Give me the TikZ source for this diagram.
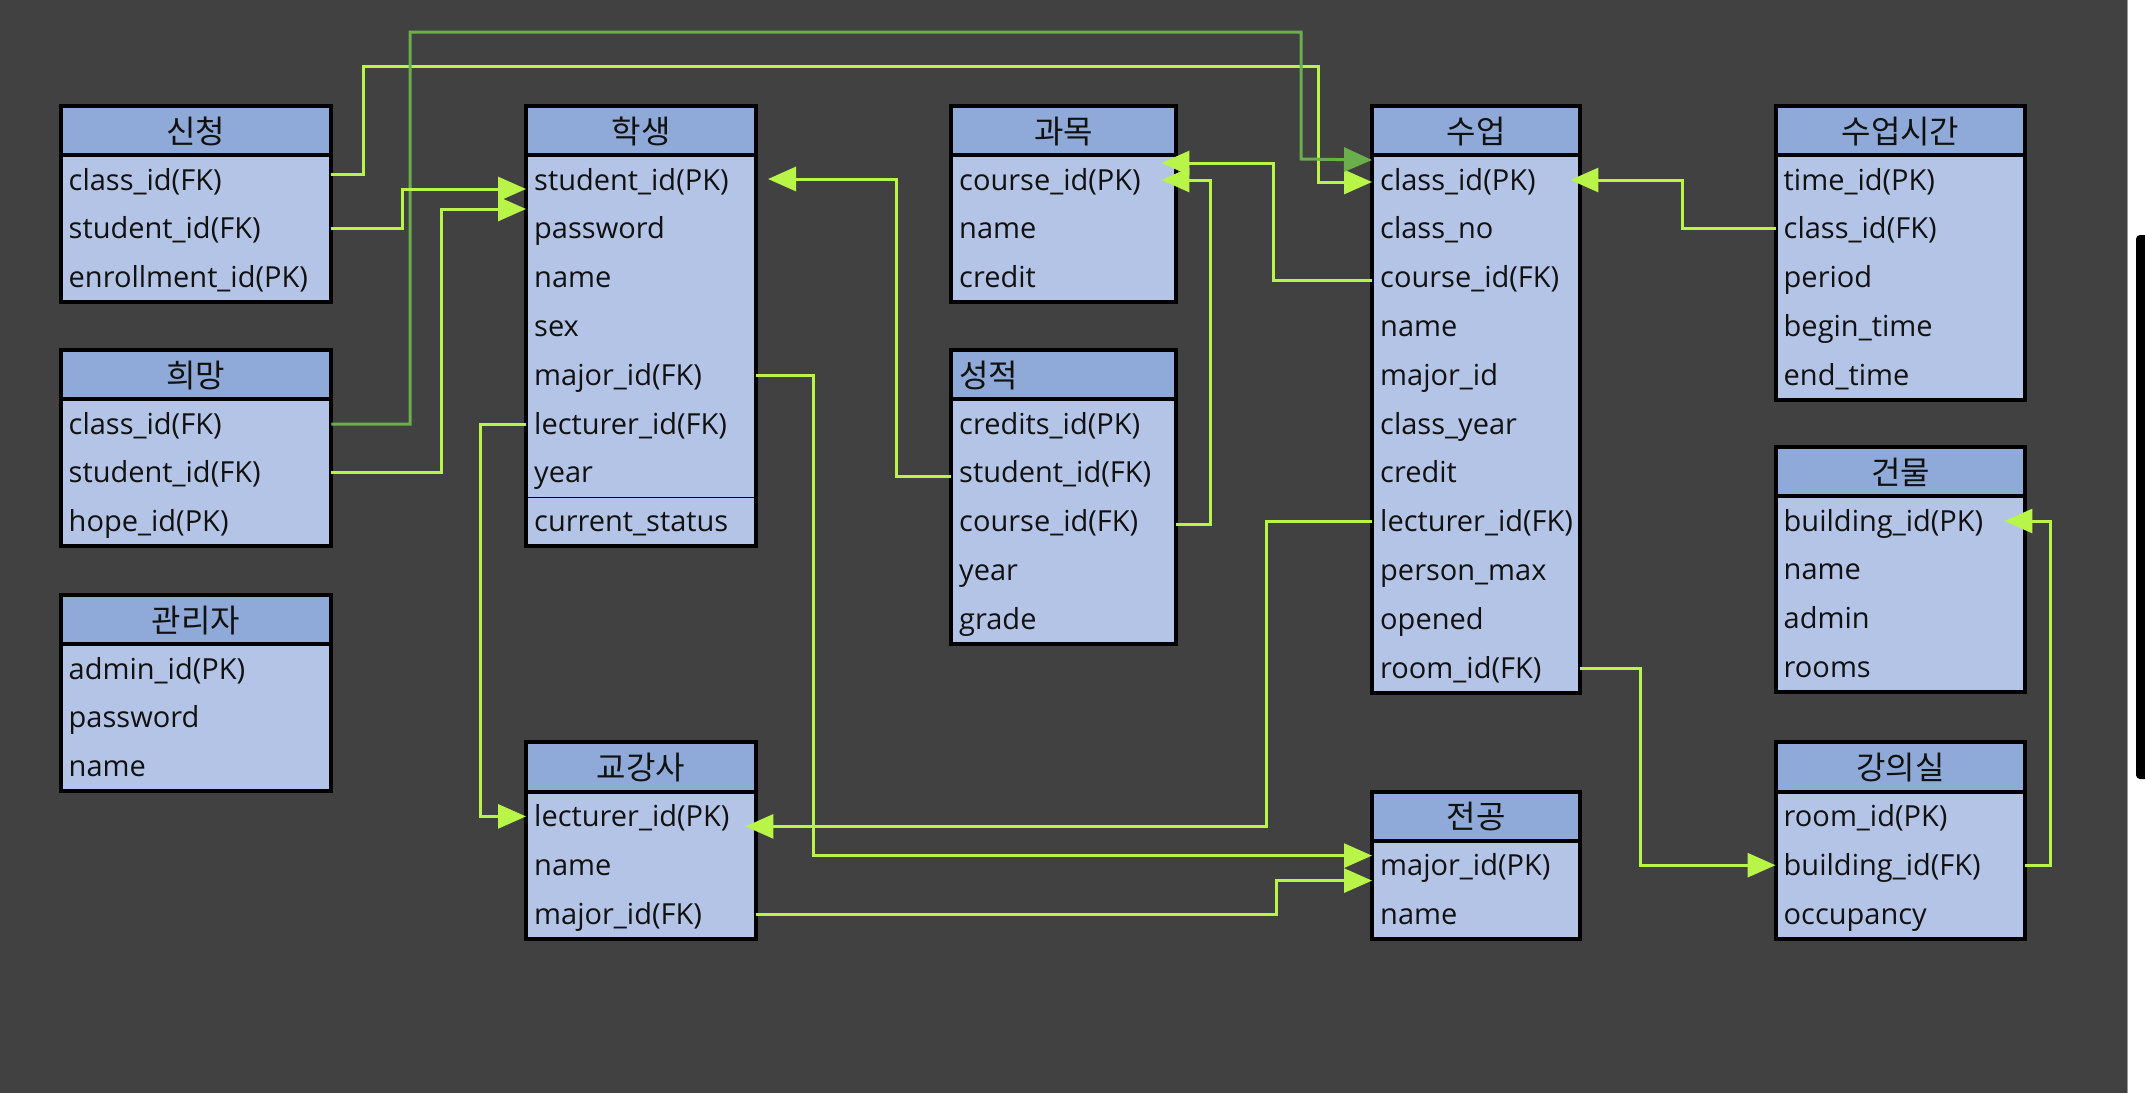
\documentclass[tikz,border=0pt]{standalone}
\usepackage{fontspec}
\setmainfont{Open Sans}
\newfontfamily\krfont{Noto Sans CJK KR}
\usetikzlibrary{arrows.meta, calc}
\definecolor{erdbg}{HTML}{414141}
\definecolor{erdhead}{HTML}{8FA9D8}
\definecolor{erdbody}{HTML}{B4C4E6}
\definecolor{erdtext}{HTML}{111111}
\definecolor{fklime}{HTML}{B8F548}
\definecolor{fkgreen}{HTML}{6AAF4C}

% one table: [header options]{name}{x}{y}{width}{title}{fields}
\newcommand{\erdtable}[7][]{%
  \pgfmathsetmacro{\erdtw}{#5-16}%
  \node[tblhead, minimum width=#5pt, text width=\erdtw pt, #1] (#2) at (#3,#4) {#6};
  \foreach \fld [count=\i] in {#7} {
    \node[tblrow, minimum width=#5pt, text width=\erdtw pt] (#2-\i)
      at ($(#2.south west)+(0,{48.8*(\i-1)})$) {\fld};
    \xdef\erdlast{\i}
  }
  \draw[tblframe] (#2.north west) rectangle (#2-\erdlast.south east);
  \draw[tblframe] (#2.south west) -- (#2.south east);
}

\begin{document}
\begin{tikzpicture}[
  x=1pt, y=-1pt,
  tblhead/.style={
    anchor=north west, fill=erdhead, text=erdtext,
    inner xsep=8pt, inner ysep=0pt, minimum height=49pt,
    text height=27pt, text depth=2pt, align=center,
    font=\krfont\fontsize{32}{36}\selectfont
  },
  tblrow/.style={
    anchor=north west, fill=erdbody, text=erdtext,
    inner xsep=8pt, inner ysep=0pt, minimum height=48.8pt,
    text height=24pt, text depth=4pt, align=left,
    font=\fontsize{29}{33}\selectfont
  },
  tblframe/.style={draw=black, line width=4pt},
  fk/.style={draw=fklime, line width=3pt, -{Triangle[length=28pt,width=24pt]}},
  fkdark/.style={fk, draw=fkgreen}
]
  \useasboundingbox (0,0) rectangle (2145,1093);
  \fill[erdbg] (0,0) rectangle (2127,1093);
  \fill[white] (2127,0) rectangle (2145,1093);
  \draw[gray!80, line width=1pt] (2127.5,0) -- (2127.5,1093);
  \fill[black, rounded corners=4pt] (2136,235) rectangle (2150,779);

  % tables
  \erdtable{apply}{60.5}{106}{270.5}{신청}{class\_id(FK), student\_id(FK), enrollment\_id(PK)}
  \erdtable{hope}{60.5}{350}{270.5}{희망}{class\_id(FK), student\_id(FK), hope\_id(PK)}
  \erdtable{admin}{60.5}{595}{270.5}{관리자}{admin\_id(PK), password, name}
  \erdtable{student}{526}{106}{229.6}{학생}{student\_id(PK), password, name, sex, major\_id(FK), lecturer\_id(FK), year, current\_status}
  \draw[line width=1.5pt] (student-7.south west) -- (student-7.south east);
  \erdtable{lecturer}{526}{742.4}{229.6}{교강사}{lecturer\_id(PK), name, major\_id(FK)}
  \erdtable{course}{951}{106}{224.5}{과목}{course\_id(PK), name, credit}
  \erdtable[align=left]{grade}{951}{350}{224.5}{성적}{credits\_id(PK), student\_id(FK), course\_id(FK), year, grade}
  \erdtable{class}{1372}{106}{208}{수업}{class\_id(PK), class\_no, course\_id(FK), name, major\_id, class\_year, credit, lecturer\_id(FK), person\_max, opened, room\_id(FK)}
  \erdtable{major}{1372}{791.6}{208}{전공}{major\_id(PK), name}
  \erdtable{ctime}{1775.5}{106}{249.5}{수업시간}{time\_id(PK), class\_id(FK), period, begin\_time, end\_time}
  \erdtable{building}{1775.5}{447}{249.5}{건물}{building\_id(PK), name, admin, rooms}
  \erdtable{room}{1775.5}{742.4}{249.5}{강의실}{room\_id(PK), building\_id(FK), occupancy}

  % foreign keys
  \draw[fk] ([yshift=6pt]apply-1.east) -- ++(32,0) |- (1318,66) |- ([yshift=-2pt]class-1.west);
  \draw[fkdark] (hope-1.east) -| (410,32) -| (1301,159) -- ([yshift=20pt]class-1.west);
  \draw[fk] (apply-2.east) -- ++(71,0) |- ([yshift=-9pt]student-1.west);
  \draw[fk] (hope-2.east) -- ++(110,0) |- ([yshift=-29pt]student-1.west);
  \draw[fk] (student-6.west) -- ++(-46,0) |- (lecturer-1.west);
  \draw[fk] ([yshift=-4pt]grade-2.west) -- ++(-55,0) |- ([xshift=12pt,yshift=1pt]student-1.east);
  \draw[fk] ([yshift=-3pt]class-3.west) -- ++(-98.5,0) |- ([xshift=-14.5pt,yshift=17pt]course-1.east);
  \draw[fk] ([yshift=-3pt]grade-3.east) -- ++(35,0) |- ([xshift=-14.5pt]course-1.east);
  \draw[fk] (ctime-2.west) -- ++(-93.5,0) |- ([xshift=-10pt]class-1.east);
  \draw[fk] (class-8.west) -- ++(-106,0) |- ([xshift=-10.6pt,yshift=-10pt]lecturer-1.east);
  \draw[fk] (student-5.east) -- ++(57.4,0) |- ([yshift=10pt]major-1.west);
  \draw[fk] (lecturer-3.east) -- ++(520,0) |- ([yshift=-15pt]major-1.west);
  \draw[fk] (class-11.east) -- ++(60,0) |- (room-2.west);
  \draw[fk] (room-2.east) -- ++(25,0) |- ([xshift=-21pt]building-1.east);
\end{tikzpicture}
\end{document}
